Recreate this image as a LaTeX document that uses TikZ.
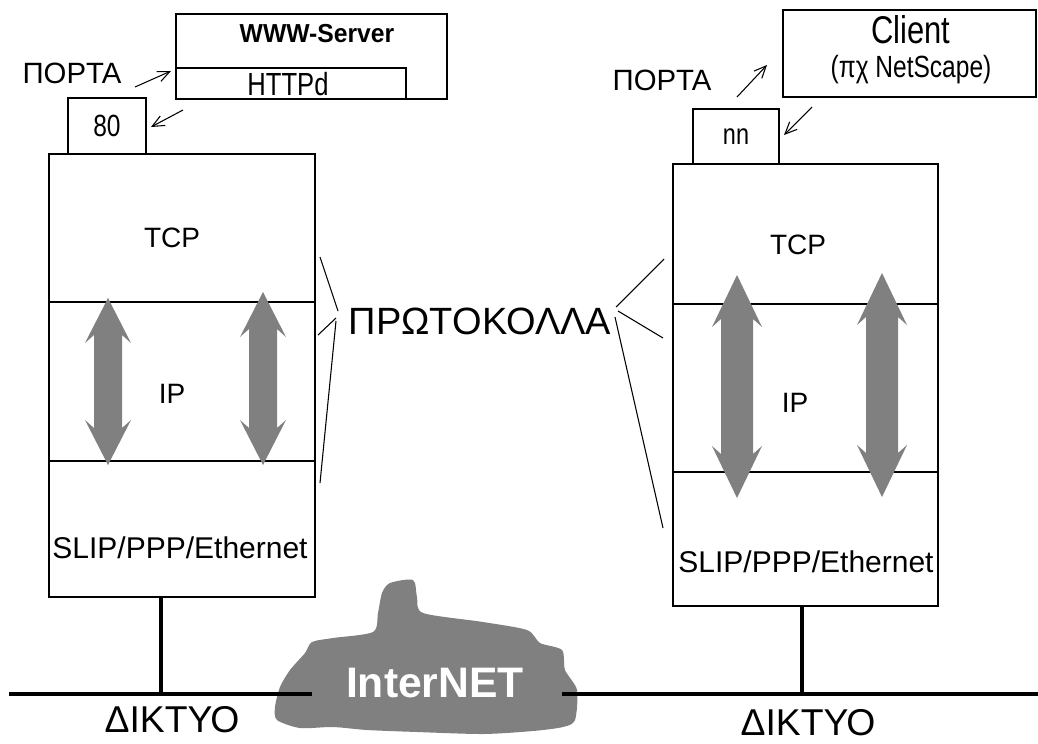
\documentclass[tikz,border=0pt]{standalone}
\usepackage{fontspec}
\setmainfont{Liberation Sans}
\newfontfamily\narrowf[FakeStretch=0.8]{Liberation Sans}
\newfontfamily\wideb[FakeStretch=0.95]{Liberation Sans}
\usetikzlibrary{arrows.meta}
\definecolor{cgray}{RGB}{128,128,128}
\newcommand\dblarr[6]{%
  \fill[cgray] (#1,#2) -- ({#1+#4},{#2+#6}) -- ({#1+#5},{#2+#6-8}) -- ({#1+#5},{#3-#6+8}) -- ({#1+#4},{#3-#6}) -- (#1,#3)
  -- ({#1-#4},{#3-#6}) -- ({#1-#5},{#3-#6+8}) -- ({#1-#5},{#2+#6-8}) -- ({#1-#4},{#2+#6}) -- cycle;}
\begin{document}
\begin{tikzpicture}[x=0.75pt,y=-0.75pt,
  stackbox/.style={draw,line width=2.2pt,inner sep=0pt},
  portbox/.style={draw,line width=1.1pt,inner sep=0pt},
  appbox/.style={draw,line width=2.2pt,inner sep=0pt},
  divider/.style={line width=2.2pt},
  thinline/.style={line width=0.8pt},
  portarr/.style={line width=0.8pt,-{Straight Barb[length=9pt,width=8pt]}},
  net/.style={line width=3pt},
  lbl/.style={inner sep=0pt}]
\useasboundingbox (0,0) rectangle (1038,743);

% ---- cloud
\fill[cgray] plot[smooth cycle,tension=0.45] coordinates {
 (382,593) (390,583) (413,580) (417,597) (423,613) (483,622) (527,630)
 (540,643) (562,650) (565,670) (577,690) (575,720) (563,727) (533,731)
 (483,734) (417,732) (367,730) (333,727) (300,728) (277,720) (275,707)
 (280,687) (290,670) (305,653) (312,642) (333,638) (373,632) (378,613)};

% ---- stacks
\node[stackbox,minimum width=199.5pt,minimum height=332.25pt] (Lstack) at (182,375.5) {};
\node[stackbox,minimum width=198.75pt,minimum height=331.5pt] (Rstack) at (805.5,385) {};
\coordinate (L1) at (0,302); \coordinate (L2) at (0,461);
\coordinate (R1) at (0,304); \coordinate (R2) at (0,472);
\draw[divider] (Lstack.west |- L1) -- (Lstack.east |- L1);
\draw[divider] (Lstack.west |- L2) -- (Lstack.east |- L2);
\draw[divider] (Rstack.west |- R1) -- (Rstack.east |- R1);
\draw[divider] (Rstack.west |- R2) -- (Rstack.east |- R2);

% ---- double arrows
\dblarr{108}{298}{465}{23}{14}{45}
\dblarr{263}{292}{465}{23}{14}{45}
\dblarr{737}{275}{498}{25}{16}{52}
\dblarr{882}{273}{497}{25}{16}{52}

% ---- layer texts
\node[lbl,font=\fontsize{21}{24}\selectfont] (LTCP) at (172,238) {TCP};
\node[lbl,font=\fontsize{21}{24}\selectfont] (LIP) at (172,394) {IP};
\node[lbl,font=\fontsize{22.5}{26}\selectfont] (LSLIP) at (180,548) {SLIP/PPP/Ethernet};
\node[lbl,font=\fontsize{21}{24}\selectfont] (RTCP) at (798,245) {TCP};
\node[lbl,font=\fontsize{21}{24}\selectfont] (RIP) at (795,403) {IP};
\node[lbl,font=\fontsize{22.5}{26}\selectfont] (RSLIP) at (806,562) {SLIP/PPP/Ethernet};

% ---- port boxes
\node[portbox,minimum width=58.5pt,minimum height=42pt,font=\narrowf\fontsize{23}{24}\selectfont] (P80) at (107,126) {80};
\node[portbox,minimum width=64.5pt,minimum height=41.25pt,font=\narrowf\fontsize{22}{24}\selectfont] (Pnn) at (736,136.5) {nn};

% ---- application boxes
\node[appbox,minimum width=203.25pt,minimum height=63.75pt] (WWW) at (311.5,56.5) {};
\node[portbox,minimum width=172.5pt,minimum height=23.25pt] (HTTPd) at (291,83.5) {};
\node[lbl,font=\wideb\bfseries\fontsize{19.5}{22}\selectfont] (WWWt) at (317,34) {WWW-Server};
\node[lbl,font=\narrowf\fontsize{24}{26}\selectfont] (HTTPdt) at (288,84) {HTTPd};
\node[appbox,minimum width=189.75pt,minimum height=65.25pt] (Client) at (909.5,53.5) {};
\node[lbl,font=\narrowf\fontsize{29}{32}\selectfont] (Clientt) at (911,30) {Client};
\node[lbl,font=\narrowf\fontsize{23}{26}\selectfont] (NS) at (911,70) {(πχ NetScape)};

% ---- ΠΟΡΤΑ labels and arrows
\node[lbl,font=\fontsize{22}{24}\selectfont] (PortaL) at (72,73) {ΠΟΡΤΑ};
\node[lbl,font=\fontsize{22}{24}\selectfont] (PortaR) at (662,80) {ΠΟΡΤΑ};
\coordinate (aL1s) at (135,87);  \coordinate (aL1e) at (171,71);
\coordinate (aL2s) at (183,110); \coordinate (aL2e) at (151,127);
\coordinate (aR1s) at (737,97);  \coordinate (aR1e) at (767,65);
\coordinate (aR2s) at (812,107); \coordinate (aR2e) at (784,135);
\draw[portarr] (aL1s) -- (aL1e);
\draw[portarr] (aL2s) -- (aL2e);
\draw[portarr] (aR1s) -- (aR1e);
\draw[portarr] (aR2s) -- (aR2e);

% ---- ΠΡΩΤΟΚΟΛΛΑ
\node[lbl,font=\fontsize{28.5}{32}\selectfont] (proto) at (480,321) {ΠΡΩΤΟΚΟΛΛΑ};
\coordinate (pl1) at (320,257); \coordinate (pl1e) at (338,311);
\coordinate (pl2) at (318,335); \coordinate (pl2e) at (336,318);
\coordinate (pl3) at (320,483); \coordinate (pl3e) at (336,321);
\coordinate (pr1) at (664,259); \coordinate (pr1e) at (616,307);
\coordinate (pr2) at (663,338); \coordinate (pr2e) at (618,311);
\coordinate (pr3) at (663,528); \coordinate (pr3e) at (615,317);
\draw[thinline] (pl1) -- (pl1e);
\draw[thinline] (pl2) -- (pl2e);
\draw[thinline] (pl3e) -- (pl3);
\draw[thinline] (pr1) -- (pr1e);
\draw[thinline] (pr2) -- (pr2e);
\draw[thinline] (pr3) -- (pr3e);

% ---- network
\coordinate (netL) at (9,694);
\coordinate (cloudL) at (312,694);
\coordinate (cloudR) at (562,694);
\coordinate (netR) at (1038,694);
\coordinate (jL) at (161,694);
\coordinate (jR) at (802,694);
\draw[net] (netL) -- (cloudL);
\draw[net] (cloudR) -- (netR);
\draw[net] (jL |- Lstack.south) -- (jL);
\draw[net] (jR |- Rstack.south) -- (jR);
\node[lbl,font=\bfseries\fontsize{32}{36}\selectfont,text=white] (inet) at (435,683) {InterNET};
\node[lbl,font=\fontsize{28}{32}\selectfont] (netlblL) at (172,720) {ΔΙΚΤΥΟ};
\node[lbl,font=\fontsize{28}{32}\selectfont] (netlblR) at (808,723) {ΔΙΚΤΥΟ};
\end{tikzpicture}
\end{document}
